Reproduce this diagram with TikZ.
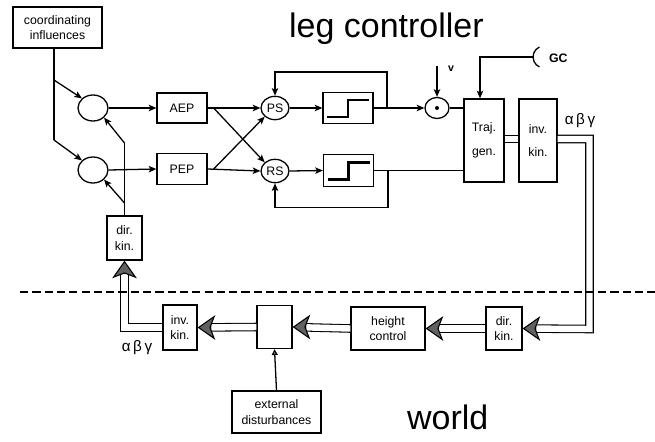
\documentclass[tikz,border=0pt]{standalone}
\usepackage{fontspec}
\setmainfont{Liberation Sans}
\usetikzlibrary{positioning,arrows.meta,shapes.geometric,calc}

\begin{document}
\begin{tikzpicture}[
    x=0.03cm,y=-0.03cm,
    font=\fontsize{10.5}{13}\selectfont,
    blk/.style={draw,line width=1.1pt,align=center,inner sep=0pt},
    sumnode/.style={draw,ellipse,line width=1.1pt,inner sep=0pt},
    ln/.style={line width=1.1pt},
    arr/.style={-{Stealth[length=6.5pt,width=5.5pt,inset=1.5pt]},line width=1.1pt},
    dbln/.style={double,double distance=5.5pt,line width=0.9pt},
    dbl/.style={dbln,shorten >=12pt},
    bigtip/.style={-{Stealth[length=15pt,width=21pt,inset=4pt,fill=black!62,line width=0.9pt]},line width=0.9pt},
    stepline/.style={line width=1.8pt},
    greek/.style={font=\fontsize{13}{13}\selectfont}
  ]
    \useasboundingbox (0,0) rectangle (655,441);

    \node[anchor=base west,font=\fontsize{29}{30}\selectfont] (title) at (285,37) {leg controller};
    \node[anchor=base west,font=\fontsize{29}{30}\selectfont] (world) at (403,429) {world};

    \node[blk,minimum width=2.67cm,minimum height=1.23cm] (coord) at (57.5,27.5) {coordinating\\influences};
    \node[sumnode,minimum width=0.9cm,minimum height=0.78cm] (sumA) at (93,108) {};
    \node[sumnode,minimum width=0.9cm,minimum height=0.78cm] (sumP) at (93,170) {};
    \node[blk,minimum width=1.5cm,minimum height=0.9cm] (aep) at (182,108) {AEP};
    \node[blk,minimum width=1.5cm,minimum height=0.93cm] (pep) at (182,169) {PEP};
    \node[sumnode,minimum width=0.84cm,minimum height=0.7cm] (ps) at (275,108) {PS};
    \node[sumnode,minimum width=0.84cm,minimum height=0.7cm] (rs) at (275,171) {RS};
    \node[blk,minimum width=1.5cm,minimum height=0.92cm] (stepP) at (348,108) {};
    \node[blk,minimum width=1.5cm,minimum height=0.95cm] (stepR) at (348.5,170.5) {};
    \node[sumnode,minimum width=0.72cm,minimum height=0.63cm] (mult) at (437,108) {};
    \node[blk,minimum width=1.2cm,minimum height=2.49cm,font=\fontsize{10.5}{20}\selectfont] (traj) at (484,140.5) {Traj.\\gen.};
    \node[blk,minimum width=1.14cm,minimum height=2.49cm,font=\fontsize{10.5}{20}\selectfont] (invkinU) at (538,140.5) {inv.\\kin.};
    \node[blk,minimum width=1.08cm,minimum height=1.29cm] (dirkinL) at (504,328.5) {dir.\\kin.};
    \node[blk,minimum width=2.22cm,minimum height=1.29cm] (height) at (388,328.5) {height\\control};
    \node[blk,minimum width=1.05cm,minimum height=1.29cm] (dist) at (274.5,327) {};
    \node[blk,minimum width=2.67cm,minimum height=1.26cm] (ext) at (276.5,412) {external\\disturbances};
    \node[blk,minimum width=1.02cm,minimum height=1.35cm] (invkinL) at (180,327.5) {inv.\\kin.};
    \node[blk,minimum width=1.05cm,minimum height=1.32cm] (dirkinU) at (124.5,238) {dir.\\kin.};

    \node[anchor=base west,font=\fontsize{10.5}{12}\bfseries] (gc) at (545,62) {GC};
    \node[anchor=base west,font=\fontsize{9}{10}\bfseries] (vlab) at (444,71) {v};
    \node[greek] (abgU) at (580,121) {α\,β\,γ};
    \node[greek] (abgL) at (137,348) {α\,β\,γ};

    \coordinate (ci1) at (54,80);
    \coordinate (ci2) at (54,140);
    \coordinate (dk1) at (124.5,143);
    \coordinate (dk2) at (124.5,203);
    \coordinate (fbP) at (387,108);
    \coordinate (fbR) at (388,170.5);
    \coordinate (vin) at (437,66);
    \coordinate (gcarc) at (533,57);

    \fill (mult.center) circle (1.7pt);
    \foreach \s in {stepP,stepR}
      \draw[stepline,shift={(\s.center)}] (-21,9) -- (0,9) -- (0,-8) -- (21,-8);
    \draw[ln] (539.4,47) arc (-115:-245:11);

    \draw[ln] (coord.south -| ci2) -- (ci2);
    \draw[arr] (ci1) -- (sumA.north west);
    \draw[arr] (ci2) -- (sumP.north west);
    \draw[ln] (dirkinU.north) -- (dk1);
    \draw[arr] (dk1) -- (sumA.south east);
    \draw[arr] (dk2) -- (sumP.south east);
    \draw[arr] (sumA.east) -- (aep.west);
    \draw[arr] (sumP.east) -- (pep.west);
    \draw[arr] (aep.east) -- (ps.west);
    \draw[arr] (pep.east) -- (rs.west);
    \draw[arr] ([xshift=0.18cm]aep.east) -- (rs.north west);
    \draw[arr] ([xshift=0.18cm]pep.east) -- (ps.south west);
    \draw[arr] (ps.east) -- (stepP.west);
    \draw[arr] (rs.east) -- (stepR.west);
    \draw[arr] (stepP.east) -- (mult.west);
    \draw[arr] (fbP) -- ++(0,-36) -| (ps.north);
    \draw[arr] (fbR) -- ++(0,37) -| (rs.south);
    \draw[ln] (mult.east) -- (mult.east -| traj.west);
    \draw[ln] (stepR.east) -- (stepR.east -| traj.west);
    \draw[arr] (vin) -- (mult.north);
    \draw[arr] (gcarc) -| ([xshift=-0.12cm]traj.north);

    \draw[dbln] (traj.east |- 0,139) -- (invkinU.west |- 0,139);
    \draw[dbl] (invkinU.east |- 0,139) -| (589.5,329) -- (dirkinL.east);
    \draw[bigtip] ([xshift=11pt]dirkinL.east) -- (dirkinL.east);
    \draw[dbl] (dirkinL.west) -- (height.east);
    \draw[bigtip] ([xshift=11pt]height.east) -- (height.east);
    \draw[dbl] (height.west) -- (dist.east);
    \draw[bigtip] ([xshift=11pt]dist.east) -- (dist.east);
    \draw[dbl] (dist.west) -- (invkinL.east);
    \draw[bigtip] ([xshift=11pt]invkinL.east) -- (invkinL.east);
    \draw[dbl] (invkinL.west) -| (dirkinU.south);
    \draw[bigtip] ([yshift=-11pt]dirkinU.south) -- (dirkinU.south);
    \draw[-{Triangle[open,length=5pt,width=5pt]},line width=1.1pt] (ext.north) -- (dist.south);

    \draw[line width=1.5pt,dash pattern=on 7pt off 3.5pt] (20,292) -- (655,292);
  \end{tikzpicture}
\end{document}
